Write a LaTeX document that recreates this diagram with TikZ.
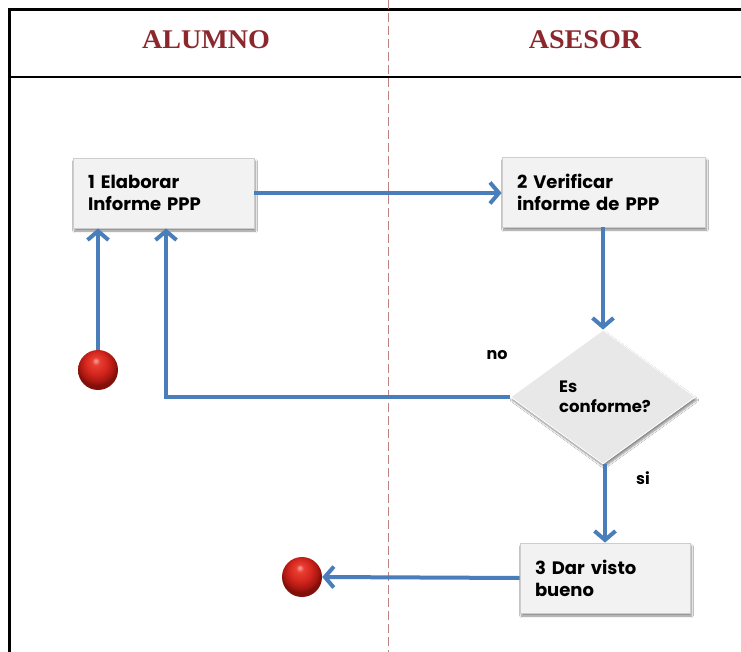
\documentclass[tikz,border=0pt]{standalone}
\usepackage{fontspec}
\usepackage{graphicx}
\usetikzlibrary{arrows.meta,shapes.geometric,shadows.blur}
\setmainfont{Liberation Serif}
\newfontfamily\boxfont{Poppins}
\definecolor{flowblue}{RGB}{74,126,187}
\definecolor{headred}{RGB}{140,40,45}
\definecolor{lanedash}{RGB}{190,130,130}
\definecolor{boxfill}{RGB}{242,242,242}
\definecolor{boxline}{RGB}{205,205,205}
\definecolor{diafill}{RGB}{232,232,232}
\definecolor{ballhi}{RGB}{248,165,155}
\definecolor{ballmid}{RGB}{232,62,50}
\definecolor{ballbody}{RGB}{212,38,30}
\definecolor{ballrim}{RGB}{165,22,16}
\definecolor{balledge}{RGB}{130,15,10}
% red ball with its highlight near the top
\pgfdeclareradialshading{redball}{\pgfpoint{-3bp}{12bp}}{%
  color(0bp)=(ballhi);
  color(5bp)=(ballmid);
  color(14bp)=(ballbody);
  color(22bp)=(ballrim);
  color(25bp)=(balledge);
  color(50bp)=(balledge)}
\tikzset{
  stepbox/.style={rectangle, fill=boxfill, draw=boxline, line width=0.8pt,
    minimum height=70pt, align=left, anchor=center,
    inner xsep=15pt, font=\boxfont\bfseries\fontsize{18}{22}\selectfont,
    blur shadow={shadow xshift=1.5pt, shadow yshift=-3pt, shadow blur steps=6, shadow opacity=45}},
  decision/.style={diamond, aspect=1.38, fill=diafill, draw=white, line width=0.8pt,
    minimum width=185pt, minimum height=134pt, inner sep=0pt, align=left,
    font=\boxfont\bfseries\fontsize{16.5}{20}\selectfont,
    blur shadow={shadow xshift=1.5pt, shadow yshift=-3pt, shadow blur steps=6, shadow opacity=45}},
  ball/.style={circle, minimum size=40pt, inner sep=0pt, shading=redball},
  flow/.style={draw=flowblue, line width=4pt, -{Straight Barb[length=9pt,width=21pt]}},
  lane/.style={font=\bfseries\fontsize{27}{28}\selectfont, text=headred},
  tag/.style={font=\boxfont\bfseries\fontsize{16}{18}\selectfont}
}
\begin{document}
\begin{tikzpicture}[x=1pt, y=-1pt]
  \useasboundingbox (0,0) rectangle (741,652);
  \clip (0,0) rectangle (741,652);
  \fill[white] (0,0) rectangle (741,652);

  % swimlane frame and header
  \draw[line width=2.5pt] (9.5,9.5) rectangle (770,690);
  \draw[line width=2.5pt] (9.5,77) -- (770,77);
  \draw[lanedash, line width=1pt, dash pattern=on 9pt off 4pt] (388,0) -- (388,652);
  \node[lane] (alumno) at (206,40) {\scalebox{1.04}[1]{ALUMNO}};
  \node[lane] (asesor) at (585,40) {\scalebox{1.04}[1]{ASESOR}};

  % activities
  \node[stepbox, minimum width=181pt, text width=151pt] (b1) at (163.5,193) {1 Elaborar\\Informe PPP};
  \node[stepbox, minimum width=203pt, text width=173pt] (b2) at (603.5,192) {2 Verificar\\informe de PPP};
  \node[decision] (dec) at (603,397) {\hspace*{4pt}Es\\\hspace*{4pt}conforme?};
  \node[stepbox, minimum width=170pt, text width=140pt] (b3) at (605,578) {3 Dar visto\\bueno};

  % start and end
  \node[ball] (start) at (98,370) {};
  \node[ball] (stop) at (302,577) {};

  % connectors
  \coordinate (ret) at (166,0);
  \draw[flow] (start.north) -- (start.north |- b1.south);
  \draw[flow] (b1.east) -- (b1.east -| b2.west);
  \draw[flow] (b2.south -| dec.north) -- (dec.north);
  \draw[flow] (dec.west) -| (ret |- b1.south);
  \draw[flow] (dec.south -| b3.north) -- (b3.north);
  \draw[flow] (b3.west) -- (stop.east);

  % decision labels
  \node[tag] (no) at (497,355) {no};
  \node[tag] (si) at (643,478) {si};
\end{tikzpicture}
\end{document}
